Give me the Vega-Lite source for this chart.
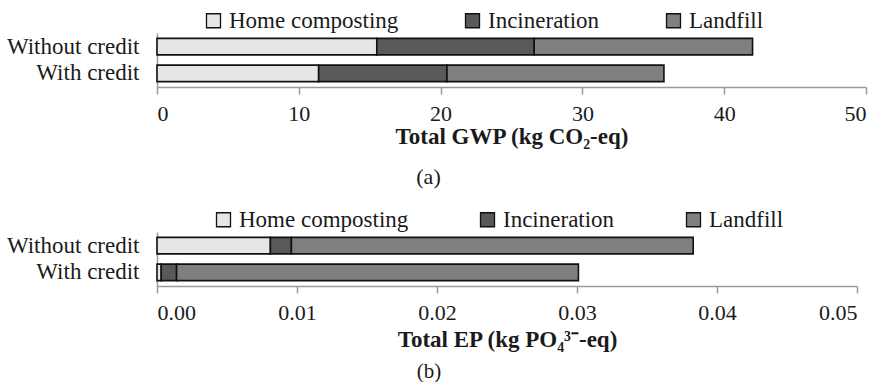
{
  "$schema": "https://vega.github.io/schema/vega-lite/v6.json",
  "background": "white",
  "padding": {"left": 6, "top": 9, "right": 1, "bottom": 0},
  "spacing": 20,
  "config": {
    "font": "Liberation Serif, serif",
    "view": {"stroke": null},
    "axis": {"domainColor": "#9a9a9a", "tickColor": "#9a9a9a", "grid": false, "labelColor": "#1a1a1a", "titleColor": "#1a1a1a", "labelFont": "Liberation Serif, serif", "titleFont": "Liberation Serif, serif"},
    "legend": {"labelColor": "#1a1a1a", "labelFont": "Liberation Serif, serif"},
    "title": {"font": "Liberation Serif, serif"}
  },
  "resolve": {"legend": {"color": "independent"}, "scale": {"color": "independent"}},
  "vconcat": [
    {
      "width": 709,
      "height": 54,
      "title": {"text": "(a)", "orient": "bottom", "fontWeight": "normal", "fontSize": 22, "color": "#1a1a1a", "offset": 19, "dx": -83},
      "data": {"values": [
        {"scenario": "Without credit", "process": "Home composting", "ord": 1, "value": 15.5},
        {"scenario": "Without credit", "process": "Incineration", "ord": 2, "value": 11.1},
        {"scenario": "Without credit", "process": "Landfill", "ord": 3, "value": 15.4},
        {"scenario": "With credit", "process": "Home composting", "ord": 1, "value": 11.4},
        {"scenario": "With credit", "process": "Incineration", "ord": 2, "value": 9.05},
        {"scenario": "With credit", "process": "Landfill", "ord": 3, "value": 15.3}
      ]},
      "mark": {"type": "bar", "stroke": "#111111", "strokeWidth": 1.6},
      "encoding": {
        "y": {"field": "scenario", "type": "nominal", "sort": ["Without credit", "With credit"],
          "scale": {"paddingInner": 0.38, "paddingOuter": 0.2},
          "axis": {"title": null, "ticks": false, "labelFontSize": 23, "labelPadding": 18, "labelLimit": 0, "domainWidth": 1.5}},
        "x": {"field": "value", "type": "quantitative", "stack": "zero",
          "scale": {"domain": [0, 50], "nice": false},
          "axis": {"values": [0, 10, 20, 30, 40, 50], "title": "Total GWP (kg CO₂-eq)", "titleFontWeight": "bold", "titleFontSize": 23, "labelFontSize": 22, "tickSize": 7, "domainWidth": 1.5, "tickWidth": 1.5, "labelPadding": 9, "titlePadding": 1}},
        "color": {"field": "process", "type": "nominal",
          "scale": {"domain": ["Home composting", "Incineration", "Landfill"], "range": ["#e6e6e6", "#595959", "#808080"]},
          "legend": {"title": null, "orient": "none", "legendX": 45, "legendY": -24, "direction": "horizontal", "columns": 3, "columnPadding": 62, "symbolType": "square", "symbolSize": 196, "symbolStrokeColor": "#111111", "symbolStrokeWidth": 1.3, "symbolOpacity": 1, "labelFontSize": 23, "labelOffset": 4, "labelLimit": 0}},
        "order": {"field": "ord", "type": "quantitative"}
      }
    },
    {
      "width": 700,
      "height": 54,
      "title": {"text": "(b)", "orient": "bottom", "fontWeight": "normal", "fontSize": 21, "color": "#1a1a1a", "offset": 10, "dx": -78},
      "data": {"values": [
        {"scenario": "Without credit", "process": "Home composting", "ord": 1, "value": 0.0081},
        {"scenario": "Without credit", "process": "Incineration", "ord": 2, "value": 0.0015},
        {"scenario": "Without credit", "process": "Landfill", "ord": 3, "value": 0.0287},
        {"scenario": "With credit", "process": "Home composting", "ord": 1, "value": 0.0003},
        {"scenario": "With credit", "process": "Incineration", "ord": 2, "value": 0.0011},
        {"scenario": "With credit", "process": "Landfill", "ord": 3, "value": 0.0287}
      ]},
      "mark": {"type": "bar", "stroke": "#111111", "strokeWidth": 1.6},
      "encoding": {
        "y": {"field": "scenario", "type": "nominal", "sort": ["Without credit", "With credit"],
          "scale": {"paddingInner": 0.38, "paddingOuter": 0.2},
          "axis": {"title": null, "ticks": false, "labelFontSize": 23, "labelPadding": 18, "labelLimit": 0, "domainWidth": 1.5}},
        "x": {"field": "value", "type": "quantitative", "stack": "zero",
          "scale": {"domain": [0, 0.05], "nice": false},
          "axis": {"values": [0, 0.01, 0.02, 0.03, 0.04, 0.05], "format": ".2f", "title": "Total EP (kg PO₄³⁻-eq)", "titleFontWeight": "bold", "titleFontSize": 23, "labelFontSize": 22, "tickSize": 7, "domainWidth": 1.5, "tickWidth": 1.5, "labelPadding": 9, "titlePadding": 5}},
        "color": {"field": "process", "type": "nominal",
          "scale": {"domain": ["Home composting", "Incineration", "Landfill"], "range": ["#e6e6e6", "#595959", "#808080"]},
          "legend": {"title": null, "orient": "none", "legendX": 55, "legendY": -24, "direction": "horizontal", "columns": 3, "columnPadding": 67, "symbolType": "square", "symbolSize": 196, "symbolStrokeColor": "#111111", "symbolStrokeWidth": 1.3, "symbolOpacity": 1, "labelFontSize": 23, "labelOffset": 4, "labelLimit": 0}},
        "order": {"field": "ord", "type": "quantitative"}
      }
    }
  ]
}
